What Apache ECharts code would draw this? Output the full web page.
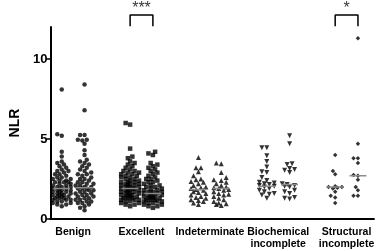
<!DOCTYPE html>
<html>
<head>
<meta charset="utf-8">
<script src="https://cdn.jsdelivr.net/npm/echarts@6/dist/echarts.min.js"></script>
<style>
  html, body { margin: 0; padding: 0; background: #fff; }
  #chart { width: 377px; height: 251px; }
</style>
</head>
<body>
<div id="chart"></div>
<script>
  // group names under the x axis
  var categories = ['Benign', 'Excellent', 'Indeterminate', 'Biochemical\nincomplete', 'Structural\nincomplete'];
  var categoryPos = [1, 4, 7, 10, 13];
  // two columns per group
  var columnPos = [0.5, 1.5, 3.5, 4.5, 6.5, 7.5, 9.5, 10.5, 12.5, 13.5];
  var yTicks = [0, 5, 10];

  // NLR values, one list per column
  var benign1 = [8.1, 5.3, 5.2, 4.2, 3.9, 3.6, 3.5, 3.4, 3.3, 3.2, 3.1, 3.0, 3.0, 2.9, 2.8, 2.8, 2.7, 2.6, 2.6, 2.5, 2.5, 2.4, 2.4, 2.3, 2.3, 2.3, 2.2, 2.2, 2.1, 2.1, 2.0, 2.0, 2.0, 1.9, 1.9, 1.9, 1.8, 1.8, 1.8, 1.7, 1.7, 1.7, 1.6, 1.6, 1.6, 1.5, 1.5, 1.5, 1.4, 1.4, 1.4, 1.3, 1.3, 1.3, 1.2, 1.2, 1.2, 1.1, 1.1, 1.0, 1.0, 0.9, 0.9, 0.8];
  var benign2 = [8.4, 6.8, 5.25, 5.25, 4.95, 4.95, 4.9, 4.7, 4.3, 4.0, 3.7, 3.6, 3.5, 3.4, 3.3, 3.2, 3.1, 3.0, 2.9, 2.8, 2.8, 2.7, 2.6, 2.5, 2.5, 2.4, 2.3, 2.3, 2.2, 2.2, 2.1, 2.1, 2.0, 2.0, 1.9, 1.9, 1.9, 1.8, 1.8, 1.7, 1.7, 1.6, 1.6, 1.5, 1.5, 1.4, 1.4, 1.3, 1.3, 1.2, 1.2, 1.1, 1.1, 1.0, 1.0, 0.9, 0.8, 0.7, 0.55];
  var excellent1 = [6.0, 5.9, 4.4, 3.9, 3.8, 3.6, 3.5, 3.4, 3.3, 3.2, 3.1, 3.0, 3.0, 2.9, 2.9, 2.8, 2.8, 2.7, 2.7, 2.6, 2.6, 2.5, 2.5, 2.4, 2.4, 2.3, 2.3, 2.3, 2.2, 2.2, 2.2, 2.1, 2.1, 2.1, 2.0, 2.0, 2.0, 1.9, 1.9, 1.9, 1.9, 1.8, 1.8, 1.8, 1.7, 1.7, 1.7, 1.6, 1.6, 1.6, 1.5, 1.5, 1.5, 1.4, 1.4, 1.4, 1.3, 1.3, 1.3, 1.2, 1.2, 1.2, 1.1, 1.1, 1.0, 1.0, 0.9, 0.9, 0.8];
  var excellent2 = [4.2, 4.1, 4.0, 3.5, 3.4, 3.3, 3.2, 3.1, 3.0, 2.9, 2.8, 2.7, 2.6, 2.5, 2.5, 2.4, 2.3, 2.3, 2.2, 2.1, 2.1, 2.0, 2.0, 1.9, 1.9, 1.8, 1.8, 1.7, 1.7, 1.7, 1.6, 1.6, 1.6, 1.5, 1.5, 1.5, 1.4, 1.4, 1.4, 1.3, 1.3, 1.3, 1.2, 1.2, 1.2, 1.1, 1.1, 1.1, 1.0, 1.0, 0.9, 0.9, 0.8, 0.8, 0.7];
  var indet1 = [3.85, 3.2, 3.2, 2.95, 2.7, 2.5, 2.45, 2.35, 2.3, 2.2, 2.1, 2.0, 1.95, 1.9, 1.85, 1.8, 1.7, 1.65, 1.6, 1.5, 1.4, 1.35, 1.3, 1.2, 1.15, 1.1, 1.0, 0.9];
  var indet2 = [3.5, 3.45, 2.9, 2.6, 2.45, 2.4, 2.3, 2.2, 2.1, 2.0, 1.95, 1.9, 1.85, 1.8, 1.7, 1.6, 1.55, 1.5, 1.4, 1.3, 1.2, 1.1, 1.0, 0.95, 0.9, 0.85];
  var biochem1 = [4.45, 4.45, 3.95, 3.6, 3.25, 2.95, 2.9, 2.6, 2.4, 2.3, 2.25, 2.2, 2.15, 2.1, 2.05, 2.0, 1.9, 1.8, 1.7, 1.6, 1.55, 1.5, 1.3];
  var biochem2 = [5.2, 4.7, 3.45, 3.4, 3.15, 3.1, 3.05, 2.9, 2.2, 2.15, 2.1, 2.05, 2.0, 1.8, 1.7, 1.6, 1.35, 1.3, 1.25];
  var struct1 = [4.0, 3.0, 2.8, 2.05, 2.0, 2.0, 1.95, 1.9, 1.7, 1.45, 1.35, 1.0];
  var struct2 = [11.3, 4.7, 3.8, 3.8, 3.5, 2.75, 2.7, 2.45, 2.0, 1.8, 1.45, 1.45];

  // median lines as drawn
  var medians = [1.9, 1.95, 1.9, 1.6, 1.85, 1.9, 2.05, 2.15, 2.0, 2.7];
  // significance brackets: [left column, right column, stars]
  var brackets = [[3.5, 4.5, '***'], [12.5, 13.5, '*']];

  var columns = [benign1, benign2, excellent1, excellent2, indet1, indet2, biochem1, biochem2, struct1, struct2];
  var symbols = ['circle', 'circle', 'rect', 'rect', 'triangle', 'triangle', 'triangle', 'triangle', 'diamond', 'diamond'];
  var symbolRot = [0, 0, 0, 0, 0, 0, 180, 180, 0, 0];
  var symbolSz = [4.5, 4.5, 4.5, 4.5, 5, 5, 5, 5, 4.5, 4.5];

  var pxX = 23, pxY = 16; // px per unit, roughly, for the swarm spread
  var maxSpread = 9;      // px either side of the column

  // simple beeswarm so dots sit side by side, kept inside maxSpread
  function swarm(vals, x0, d) {
    var sorted = vals.slice().sort(function (a, b) { return a - b; });
    var placed = [];
    var out = [];
    var step = d * 0.5;
    sorted.forEach(function (v) {
      var y = v * pxY;
      var best = 0, bestDist = -1;
      for (var k = 0; ; k++) {
        var off = (k % 2 === 0 ? 1 : -1) * Math.ceil(k / 2) * step;
        if (Math.abs(off) > maxSpread) break;
        var minD = Infinity;
        placed.forEach(function (p) {
          var dx = p[0] - off, dy = p[1] - y;
          minD = Math.min(minD, Math.sqrt(dx * dx + dy * dy));
        });
        if (minD >= d * 0.85) { best = off; bestDist = minD; break; }
        if (minD > bestDist) { best = off; bestDist = minD; }
      }
      placed.push([best, y]);
      out.push([x0 + best / pxX, v]);
    });
    return out;
  }

  var series = [];
  columns.forEach(function (vals, i) {
    series.push({
      type: 'scatter',
      data: swarm(vals, columnPos[i], symbolSz[i]),
      symbol: symbols[i],
      symbolSize: symbolSz[i],
      symbolRotate: symbolRot[i],
      itemStyle: { color: '#000' },
      silent: true,
      z: 2
    });
  });
  medians.forEach(function (m, i) {
    series.push({
      type: 'line',
      data: [[columnPos[i] - 0.37, m], [columnPos[i] + 0.37, m]],
      symbol: 'none',
      lineStyle: { color: '#8c8c8c', width: 1.5 },
      silent: true,
      z: 3
    });
  });
  brackets.forEach(function (b) {
    series.push({
      type: 'line',
      clip: false,
      data: [[b[0], 12.05], [b[0], 12.75], [b[1], 12.75], [b[1], 12.05]],
      symbol: 'none',
      lineStyle: { color: '#000', width: 1.5 },
      silent: true
    });
    series.push({
      type: 'scatter',
      clip: false,
      data: [[(b[0] + b[1]) / 2, 12.75]],
      symbolSize: 0,
      label: {
        show: true, position: 'top', distance: -2,
        formatter: b[2], color: '#000', fontSize: 16,
        fontFamily: 'Liberation Sans'
      },
      silent: true
    });
  });

  var chart = echarts.init(document.getElementById('chart'));
  chart.setOption({
    animation: false,
    grid: { left: 47, right: 3, top: 27, bottom: 32 },
    xAxis: {
      type: 'value',
      min: 0,
      max: 14.2,
      splitLine: { show: false },
      axisLine: { lineStyle: { color: '#000', width: 2 } },
      axisTick: { show: false },
      axisLabel: {
        customValues: categoryPos,
        formatter: function (v) { return categories[categoryPos.indexOf(v)]; },
        color: '#000', fontSize: 10.5, fontWeight: 'bold',
        fontFamily: 'Liberation Sans', lineHeight: 12, margin: 7
      }
    },
    yAxis: {
      type: 'value',
      min: 0,
      max: 12,
      name: 'NLR',
      nameLocation: 'middle',
      nameGap: 28,
      nameTextStyle: { color: '#000', fontSize: 14, fontWeight: 'bold', fontFamily: 'Liberation Sans' },
      splitLine: { show: false },
      axisLine: { show: true, lineStyle: { color: '#000', width: 2 } },
      axisTick: { show: true, customValues: yTicks, length: 4, lineStyle: { width: 1.5 } },
      axisLabel: {
        customValues: yTicks,
        color: '#000', fontSize: 13, fontWeight: 'bold',
        fontFamily: 'Liberation Sans', margin: 3
      }
    },
    series: series
  });
</script>
</body>
</html>
